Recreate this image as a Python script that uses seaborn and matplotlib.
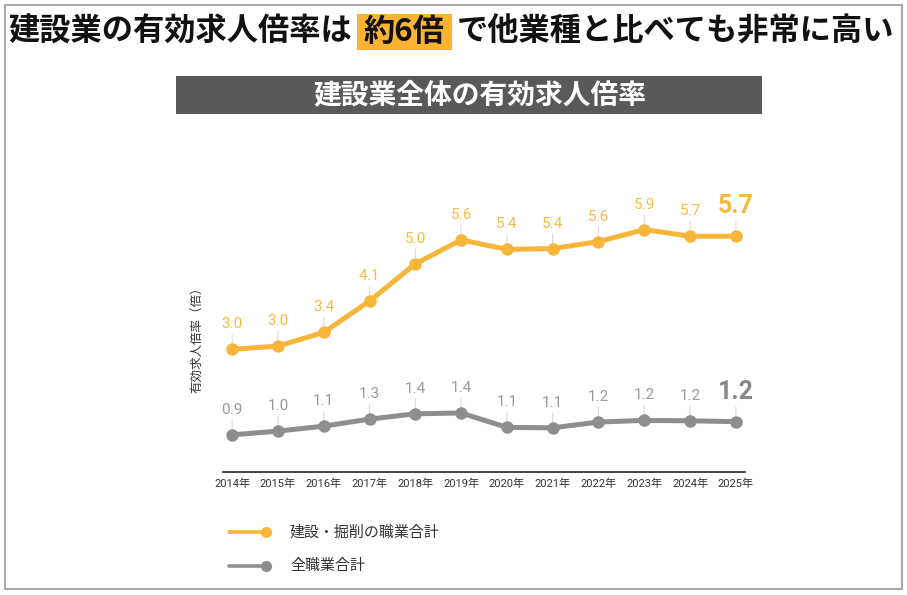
import matplotlib
matplotlib.use("Agg")
import matplotlib.pyplot as plt
import seaborn as sns
import pandas as pd
from matplotlib.patches import Rectangle
from matplotlib.lines import Line2D

years = [2014, 2015, 2016, 2017, 2018, 2019, 2020, 2021, 2022, 2023, 2024, 2025]
construction = [2.96, 3.04, 3.37, 4.13, 5.03, 5.61, 5.38, 5.40, 5.57, 5.86, 5.70, 5.70]
all_jobs = [0.89, 0.98, 1.10, 1.27, 1.40, 1.42, 1.07, 1.06, 1.20, 1.24, 1.23, 1.21]
series_names = ["建設・掘削の職業合計", "全職業合計"]
title_parts = ["建設業の有効求人倍率は", "約6倍", "で他業種と比べても非常に高い"]
banner_text = "建設業全体の有効求人倍率"
ylabel = "有効求人倍率（倍）"

sns.set_theme(style="white")
plt.rcParams["font.family"] = ["Roboto", "Noto Sans CJK JP", "DejaVu Sans"]

W, H = 907, 595
fig = plt.figure(figsize=(W / 100, H / 100), dpi=100)

def fx(px):
    return px / W

def fy(py):
    return 1 - py / H

ORANGE = "#F7B63A"
ORANGE_TXT = "#F6BB45"
GRAY = "#8E8E8E"
GRAY_TXT = "#9A9A9A"

ymax = 7.0
ax = fig.add_axes([fx(223), fy(471.6), fx(745) - fx(223), ymax * 41.3 / H])

df = pd.DataFrame({
    "year": years * 2,
    "value": construction + all_jobs,
    "series": [series_names[0]] * len(years) + [series_names[1]] * len(years),
})
sns.lineplot(data=df, x="year", y="value", hue="series",
             palette=[ORANGE, GRAY], marker="o", markersize=9,
             markeredgewidth=0, linewidth=3.6, legend=False, ax=ax, zorder=5)

ax.set_xlim(years[0] - 0.2, years[-1] + 0.2)
ax.set_ylim(0, ymax)
ax.set_xticks(years)
ax.set_xticklabels([f"{y}年" for y in years], fontsize=8, color="#333333",
                   family=["Roboto", "Noto Sans CJK JP"])
ax.tick_params(axis="x", length=0, pad=5)
ax.set_yticks([])
ax.set_xlabel("")
ax.set_ylabel("")
for s in ["top", "right", "left"]:
    ax.spines[s].set_visible(False)
ax.spines["bottom"].set_color("#222222")
ax.spines["bottom"].set_linewidth(1.2)
ax.set_facecolor("none")

def add_labels(vals, txtcolor, bigcolor):
    n = len(vals)
    for i, (yr, v) in enumerate(zip(years, vals)):
        last = i == n - 1
        ax.annotate(f"{v:.1f}", xy=(yr, v), xytext=(0, 18),
                    textcoords="offset pixels", ha="center", va="bottom",
                    fontsize=18 if last else 11,
                    fontweight="bold" if last else "normal",
                    color=bigcolor if last else txtcolor,
                    family="Roboto",
                    arrowprops=dict(arrowstyle="-", color="#DDDDDD", lw=0.9,
                                    shrinkA=0, shrinkB=0),
                    zorder=3)

add_labels(construction, ORANGE_TXT, ORANGE)
add_labels(all_jobs, GRAY_TXT, "#888888")

fig.text(fx(197), fy(337), ylabel, rotation=90, ha="center", va="center",
         fontsize=9, color="#333333", family="Noto Sans CJK JP")

# Title
tfont = dict(fontsize=22.5, fontweight="bold", color="#111111",
             family=["Noto Sans CJK JP"], va="center")
fig.text(fx(352), fy(32), title_parts[0], ha="right", **tfont)
fig.add_artist(Rectangle((fx(357), fy(50)), fx(452) - fx(357), fy(14) - fy(50),
                         transform=fig.transFigure, facecolor="#FAB431",
                         edgecolor="none", zorder=0))
fig.text(fx(404.5), fy(32), title_parts[1], ha="center", **tfont)
fig.text(fx(457), fy(32), title_parts[2], ha="left", **tfont)

# Banner
fig.add_artist(Rectangle((fx(176), fy(114)), fx(762) - fx(176), fy(76) - fy(114),
                         transform=fig.transFigure, facecolor="#595959",
                         edgecolor="none", zorder=0))
fig.text(fx(480), fy(95), banner_text, ha="center", va="center", fontsize=20,
         fontweight="bold", color="white", family="Noto Sans CJK JP")

# Legend
for py, col, name in [(532, ORANGE, series_names[0]), (566, GRAY, series_names[1])]:
    fig.add_artist(Line2D([fx(229), fx(264)], [fy(py), fy(py)], color=col, lw=2.6,
                          transform=fig.transFigure))
    fig.add_artist(Line2D([fx(266)], [fy(py)], color=col, marker="o", markersize=8,
                          markeredgewidth=0, transform=fig.transFigure))
    fig.text(fx(290), fy(py), name, ha="left", va="center", fontsize=10.8,
             color="#333333", family="Noto Sans CJK JP")

# Border
fig.add_artist(Rectangle((fx(5), fy(589)), fx(902) - fx(5), fy(5) - fy(589),
                         transform=fig.transFigure, facecolor="none",
                         edgecolor="#AAAAAA", lw=1.5))

fig.savefig("out.png", dpi=100)
